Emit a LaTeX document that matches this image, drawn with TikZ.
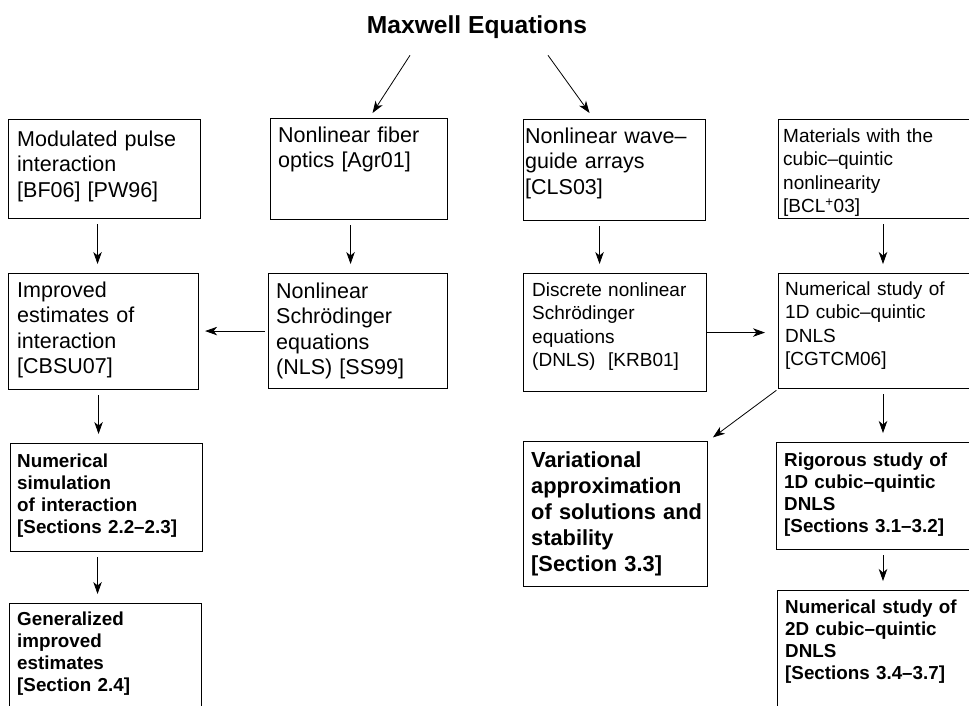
\documentclass[tikz,border=0pt]{standalone}
\usepackage{fontspec}
\setmainfont{Liberation Sans}
\usepackage{tikz}
\usetikzlibrary{arrows.meta,positioning}

\newcommand{\txtreg}{\fontsize{21.5}{25.5}\selectfont}
\newcommand{\txtsmall}{\fontsize{19}{23.5}\selectfont}
\newcommand{\txtbold}{\fontsize{18.8}{22.3}\selectfont\bfseries}
\newcommand{\txtbig}{\fontsize{21.8}{26}\selectfont\bfseries}

\begin{document}
\begin{tikzpicture}[
x=1pt,y=-1pt,
box/.style={draw, line width=1.1pt, anchor=north west, inner sep=0pt},
txt/.style={anchor=base west, inner sep=0pt, text width=205pt, align=left},
arr/.style={-{Stealth[length=12pt,width=8.5pt,inset=3.5pt]}, line width=0.8pt},
vdown/.style={arr, shorten <=5pt, shorten >=9pt}
]
\useasboundingbox (0,0) rectangle (969,705);
\clip (0,0) rectangle (969,705);
\node[anchor=base, inner sep=0pt, font=\fontsize{24.6}{28}\selectfont\bfseries] (maxw) at (477,33) {Maxwell Equations};
% boxes
\node[box, minimum width=192pt, minimum height=99pt] (mod) at (8,119) {};
\node[box, minimum width=177pt, minimum height=101pt] (fiber) at (270,118) {};
\node[box, minimum width=182pt, minimum height=101pt] (wave) at (523,119) {};
\node[box, minimum width=210pt, minimum height=99pt] (mat) at (778,119) {};
\node[box, minimum width=190pt, minimum height=116pt] (imp) at (8,273) {};
\node[box, minimum width=179pt, minimum height=115pt] (nls) at (268,273) {};
\node[box, minimum width=183pt, minimum height=118pt] (dnls) at (523,273) {};
\node[box, minimum width=210pt, minimum height=115pt] (num1) at (778,273) {};
\node[box, minimum width=192pt, minimum height=108pt] (sim) at (10,443) {};
\node[box, minimum width=192pt, minimum height=130pt] (gen) at (9,603) {};
\node[box, minimum width=184pt, minimum height=145pt] (var) at (523,441) {};
\node[box, minimum width=210pt, minimum height=107pt] (rig) at (776,442) {};
\node[box, minimum width=210pt, minimum height=130pt] (num2) at (777,590) {};
% texts
\node[txt, font=\txtreg] (modt) at ([shift={(9pt,-27pt)}]mod.north west) {Modulated pulse\\interaction\\{}[BF06] [PW96]};
\node[txt, font=\txtreg] (fibert) at ([shift={(8pt,-24pt)}]fiber.north west) {Nonlinear fiber\\optics [Agr01]};
\node[txt, font=\txtreg] (wavet) at ([shift={(2pt,-24pt)}]wave.north west) {Nonlinear wave--\\guide arrays\\{}[CLS03]};
\node[txt, font=\txtsmall] (matt) at ([shift={(5pt,-23pt)}]mat.north west) {Materials with the\\cubic--quintic\\nonlinearity\\{}[BCL\textsuperscript{+}03]};
\node[txt, font=\txtreg] (impt) at ([shift={(9pt,-24pt)}]imp.north west) {Improved\\estimates of\\interaction\\{}[CBSU07]};
\node[txt, font=\txtreg] (nlst) at ([shift={(8pt,-25pt)}]nls.north west) {Nonlinear\\Schrödinger\\equations\\(NLS) [SS99]};
\node[txt, font=\txtsmall] (dnlst) at ([shift={(9pt,-23pt)}]dnls.north west) {Discrete nonlinear\\Schrödinger\\equations\\(DNLS)\ \ [KRB01]};
\node[txt, font=\txtsmall] (num1t) at ([shift={(7pt,-22pt)}]num1.north west) {Numerical study of\\1D cubic--quintic\\DNLS\\{}[CGTCM06]};
\node[txt, font=\txtbold] (simt) at ([shift={(7pt,-24pt)}]sim.north west) {Numerical\\simulation\\of interaction\\{}[Sections 2.2--2.3]};
\node[txt, font=\txtbold] (gent) at ([shift={(8pt,-22pt)}]gen.north west) {Generalized\\improved\\estimates\\{}[Section 2.4]};
\node[txt, font=\txtbig] (vart) at ([shift={(8pt,-26pt)}]var.north west) {Variational\\approximation\\of solutions and\\stability\\{}[Section 3.3]};
\node[txt, font=\txtbold] (rigt) at ([shift={(8pt,-24pt)}]rig.north west) {Rigorous study of\\1D cubic--quintic\\DNLS\\{}[Sections 3.1--3.2]};
\node[txt, font=\txtbold] (num2t) at ([shift={(8pt,-23pt)}]num2.north west) {Numerical study of\\2D cubic--quintic\\DNLS\\{}[Sections 3.4--3.7]};
% arrows
\draw[arr] ([xshift=-67pt,yshift=-17pt]maxw.south) -- ([xshift=13.5pt,yshift=5pt]fiber.north);
\draw[arr] ([xshift=71pt,yshift=-17pt]maxw.south) -- ([xshift=-25pt,yshift=6pt]wave.north);
\draw[vdown] ([xshift=-7pt]mod.south) -- ([xshift=-7pt]mod.south |- imp.north);
\draw[vdown] ([xshift=-8.5pt]fiber.south) -- ([xshift=-8.5pt]fiber.south |- nls.north);
\draw[vdown] ([xshift=-15pt]wave.south) -- ([xshift=-15pt]wave.south |- dnls.north);
\draw[vdown] ([xshift=105pt]mat.south west) -- ([xshift=105pt]mat.south west |- num1.north);
\draw[vdown] ([xshift=-5pt]imp.south) -- ([xshift=-5pt]imp.south |- sim.north);
\draw[vdown] ([xshift=-9pt]sim.south) -- ([xshift=-9pt]sim.south |- gen.north);
\draw[vdown] ([xshift=105pt]num1.south west) -- ([xshift=105pt]num1.south west |- rig.north);
\draw[vdown] ([xshift=107pt]rig.south west) -- ([xshift=107pt]rig.south west |- num2.north);
\draw[arr, shorten <=3pt, shorten >=6pt] (nls.west) -- (nls.west -| imp.east);
\draw[arr, shorten >=13pt] (dnls.east) -- (dnls.east -| num1.west);
\draw[arr, shorten <=2pt, shorten >=6pt] (num1.south west) -- (var.north east);
\end{tikzpicture}
\end{document}
